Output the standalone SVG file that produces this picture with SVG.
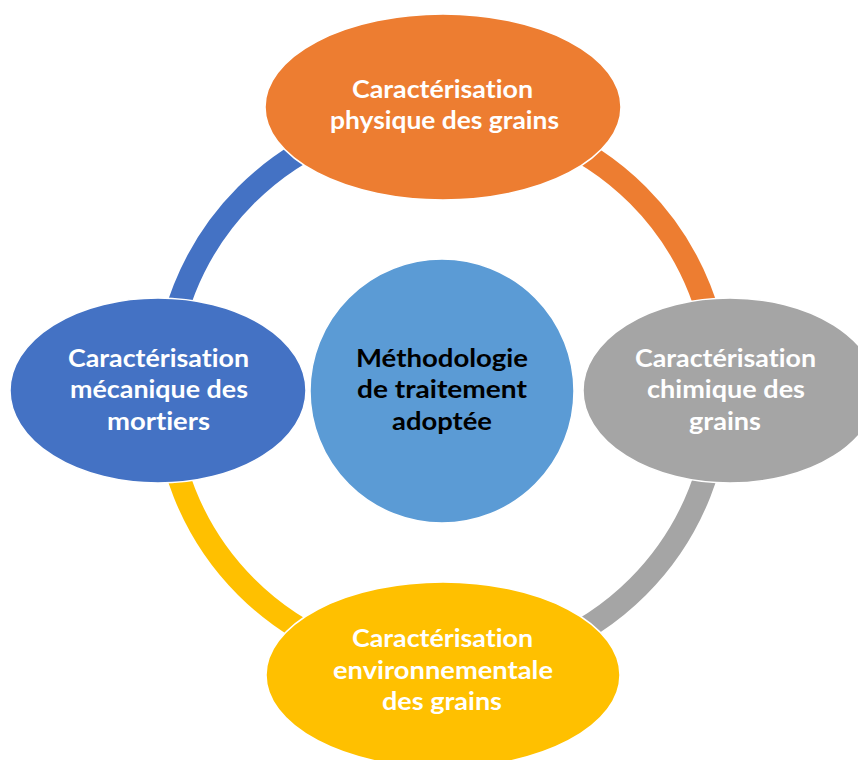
<svg xmlns="http://www.w3.org/2000/svg" width="858" height="760" viewBox="0 0 858 760">
<style>
.ring{fill:none;stroke-width:23;stroke-linecap:butt}
.node{stroke:#ffffff;stroke-width:1.5}
.lbl{font-family:Lato,"Open Sans","Liberation Sans",sans-serif;font-weight:bold;font-size:24px;text-anchor:middle;fill:#ffffff;font-variant-ligatures:none;font-feature-settings:"liga" 0,"dlig" 0}
.dark{fill:#000000}
</style>
<rect width="858" height="760" fill="#ffffff"/>
<g id="connectors">
<path class="ring" stroke="#4472C4" d="M165,391 A277,277 0 0 1 442,114"/>
<path class="ring" stroke="#ED7D31" d="M442,114 A277,277 0 0 1 719,391"/>
<path class="ring" stroke="#A5A5A5" d="M719,391 A277,277 0 0 1 442,668"/>
<path class="ring" stroke="#FFC000" d="M442,668 A277,277 0 0 1 165,391"/>
</g>
<g id="center">
<circle class="node" cx="442" cy="391" r="132" fill="#5B9BD5"/>
<text class="lbl dark" x="442" y="367" textLength="172" lengthAdjust="spacingAndGlyphs">Méthodologie</text>
<text class="lbl dark" x="442" y="398" textLength="170" lengthAdjust="spacingAndGlyphs">de traitement</text>
<text class="lbl dark" x="442" y="430" textLength="100" lengthAdjust="spacingAndGlyphs">adoptée</text>
</g>
<g id="top">
<ellipse class="node" cx="443" cy="107" rx="178" ry="93" fill="#ED7D31"/>
<text class="lbl" x="442.5" y="98" textLength="181" lengthAdjust="spacingAndGlyphs">Caractérisation</text>
<text class="lbl" x="444.5" y="129" textLength="229" lengthAdjust="spacingAndGlyphs">physique des grains</text>
</g>
<g id="left">
<ellipse class="node" cx="158" cy="390.5" rx="148" ry="92.5" fill="#4472C4"/>
<text class="lbl" x="158.5" y="367" textLength="181" lengthAdjust="spacingAndGlyphs">Caractérisation</text>
<text class="lbl" x="159" y="398" textLength="178" lengthAdjust="spacingAndGlyphs">mécanique des</text>
<text class="lbl" x="158.5" y="430" textLength="103" lengthAdjust="spacingAndGlyphs">mortiers</text>
</g>
<g id="right">
<ellipse class="node" cx="730" cy="390.5" rx="147" ry="92.5" fill="#A5A5A5"/>
<text class="lbl" x="725.5" y="367" textLength="181" lengthAdjust="spacingAndGlyphs">Caractérisation</text>
<text class="lbl" x="726" y="398" textLength="158" lengthAdjust="spacingAndGlyphs">chimique des</text>
<text class="lbl" x="725" y="430" textLength="72" lengthAdjust="spacingAndGlyphs">grains</text>
</g>
<g id="bottom">
<ellipse class="node" cx="443" cy="675" rx="177" ry="93" fill="#FFC000"/>
<text class="lbl" x="442.5" y="647" textLength="181" lengthAdjust="spacingAndGlyphs">Caractérisation</text>
<text class="lbl" x="443" y="679" textLength="220" lengthAdjust="spacingAndGlyphs">environnementale</text>
<text class="lbl" x="442" y="710" textLength="120" lengthAdjust="spacingAndGlyphs">des grains</text>
</g>
</svg>
